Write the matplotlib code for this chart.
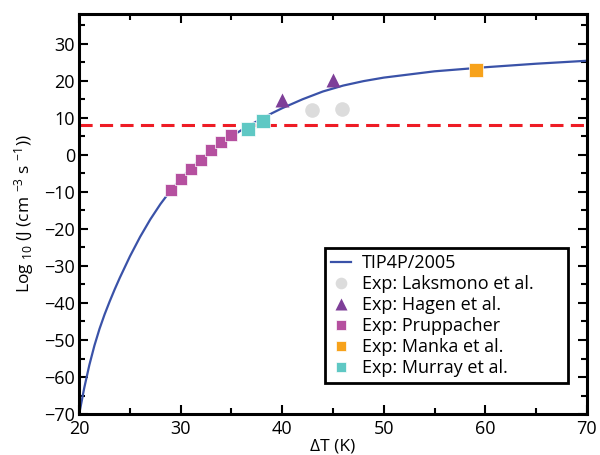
import numpy as np
import matplotlib
matplotlib.use('Agg')
import matplotlib.pyplot as plt
from matplotlib.ticker import MultipleLocator

plt.rcParams['font.family'] = ['Open Sans', 'DejaVu Sans']
plt.rcParams['mathtext.fontset'] = 'custom'
plt.rcParams['mathtext.rm'] = 'Open Sans'
plt.rcParams['mathtext.it'] = 'Open Sans'

# curva TIP4P/2005
dT_sim = [20, 20.5, 21, 21.5, 22, 22.5, 23, 23.5, 24, 25, 26, 27, 28, 29, 30, 31, 32,
          33, 34, 35, 36, 37, 38, 39, 40, 42, 44, 46, 48, 50, 55, 60, 65, 70]
logJ_sim = [-70, -62.9, -56.75, -51.5, -47.0, -43.1, -39.6, -36.3, -33.2, -27.4,
            -22.15, -17.45, -13.3, -9.65, -6.45, -3.6, -1.05, 1.2, 3.2, 5.0, 6.7,
            8.3, 9.8, 11.25, 12.6, 15.0, 17.1, 18.7, 19.9, 20.85, 22.55, 23.65, 24.6, 25.4]

# dados experimentais
dT_laks = [42.9, 45.9]
logJ_laks = [12.0, 12.4]
dT_hagen = [40.0, 45.0]
logJ_hagen = [14.9, 20.3]
dT_prupp = [29, 30, 31, 32, 33, 34, 35]
logJ_prupp = [-9.5, -6.5, -3.9, -1.3, 1.2, 3.5, 5.4]
dT_manka = [59.1]
logJ_manka = [23.0]
dT_murray = [36.6, 38.1]
logJ_murray = [7.0, 9.0]

# limite (linha tracejada)
logJ_limite = 8.0

fig = plt.figure(figsize=(6, 4.55), dpi=100)
ax = fig.add_axes([0.132, 0.09, 0.846, 0.879])

ax.axhline(logJ_limite, color='#EE1C25', linestyle=(0, (4.3, 2.4)), linewidth=2.2, zorder=1)
ax.plot(dT_sim, logJ_sim, color='#3A52A8', linewidth=1.6, label='TIP4P/2005', zorder=2)
ax.plot(dT_laks, logJ_laks, 'o', color='#DCDCDC', markersize=10.5, markeredgecolor='none',
        label='Exp: Laksmono et al.', zorder=3)
ax.plot(dT_hagen, logJ_hagen, '^', color='#7E3F98', markersize=10, markeredgecolor='none',
        label='Exp: Hagen et al.', zorder=3)
ax.plot(dT_prupp, logJ_prupp, 's', color='#B5509F', markersize=8.6, markeredgecolor='white',
        markeredgewidth=0.5, label='Exp: Pruppacher', zorder=3)
ax.plot(dT_manka, logJ_manka, 's', color='#F7A21B', markersize=9.6, markeredgecolor='white',
        markeredgewidth=0.5, label='Exp: Manka et al.', zorder=3)
ax.plot(dT_murray, logJ_murray, 's', color='#5FC8C4', markersize=9.4, markeredgecolor='white',
        markeredgewidth=0.5, label='Exp: Murray et al.', zorder=3)

ax.set_xlim(20, 70)
ax.set_ylim(-70, 38)
ax.xaxis.set_major_locator(MultipleLocator(10))
ax.xaxis.set_minor_locator(MultipleLocator(5))
ax.yaxis.set_major_locator(MultipleLocator(10))
ax.yaxis.set_minor_locator(MultipleLocator(5))
ax.tick_params(which='both', direction='in', top=True, right=True, width=1.5, labelsize=13)
ax.tick_params(which='major', length=6.7)
ax.tick_params(which='minor', length=4.3)
ax.tick_params(axis='x', pad=4)
ax.tick_params(axis='y', pad=3)
for s in ax.spines.values():
    s.set_linewidth(2.2)

ax.set_xlabel('ΔT (K)', fontsize=12.5, labelpad=1)
ax.set_ylabel(r'Log $_{10}$ (J (cm $^{-3}$ s $^{-1}$))', fontsize=12.5, labelpad=6)

leg = ax.legend(loc='lower left', bbox_to_anchor=(0.484, 0.077, 0.479, 0.348), mode='expand',
                fontsize=13, frameon=True, fancybox=False, handlelength=1.1,
                handletextpad=0.6, labelspacing=0.16, borderpad=0.35, borderaxespad=0,
                markerscale=0.8)
leg.get_frame().set_edgecolor('black')
leg.get_frame().set_linewidth(2)
leg.get_frame().set_alpha(1)

plt.savefig('out.png', dpi=100)
